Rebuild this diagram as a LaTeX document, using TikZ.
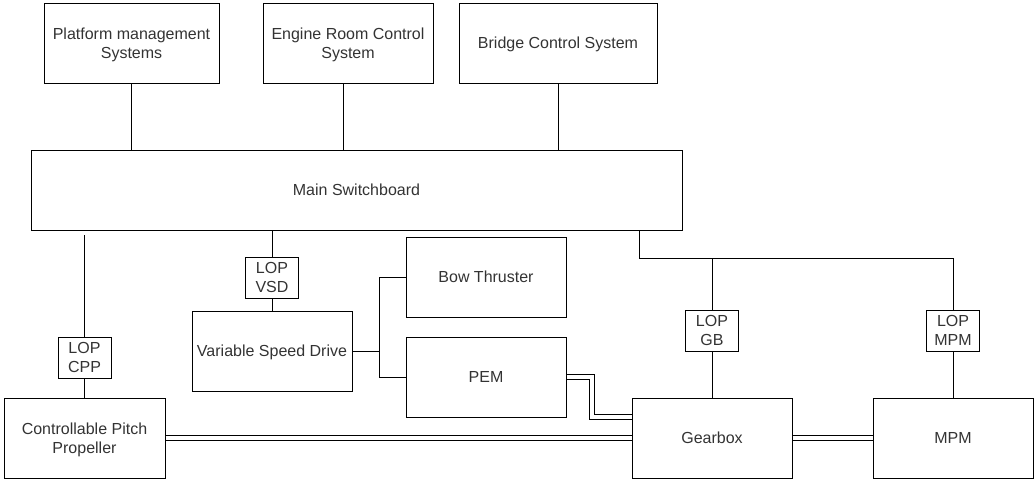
\documentclass[tikz,border=0pt]{standalone}
\usepackage{fontspec}
\setmainfont{Liberation Sans}
\usetikzlibrary{positioning}

\begin{document}
\begin{tikzpicture}[
    x=1pt, y=-1pt,
    node distance=20pt,
    block/.style={draw, line width=1pt, minimum width=160pt, minimum height=80pt,
        inner sep=2pt, outer sep=0pt, align=center, text depth=-4pt,
        font=\fontsize{16}{18.5}\selectfont, text=black!80},
    lop/.style={block, minimum width=53pt, minimum height=41pt, text depth=0pt},
    link/.style={line width=1pt},
    shaft/.style={line width=1pt, double, double distance=3.7pt,
        shorten <=0.5pt, shorten >=0.5pt},
]
\useasboundingbox (0,0) rectangle (1034,479);

%----------------------------------
% Control systems
%----------------------------------

\node[block, minimum width=175pt] (pms) at (131.5,43) {Platform management\\Systems};
\node[block, minimum width=170pt, right=44pt of pms] (erc) {Engine Room Control\\System};
\node[block, minimum width=198pt, right=26pt of erc] (bcs) {Bridge Control System};

\node[block, minimum width=651pt] (msb) at (356.5,190) {Main Switchboard};

\draw[link] (pms.south) -- (pms.south |- msb.north);
\draw[link] ([xshift=-4.5pt]erc.south) -- ([xshift=-4.5pt]erc.south |- msb.north);
\draw[link] (bcs.south) -- (bcs.south |- msb.north);

%----------------------------------
% Propulsion line
%----------------------------------

\node[block, minimum width=161pt] (cpp) at (84.5,438) {Controllable Pitch\\Propeller};
\node[lop, above=20pt of cpp] (lopcpp) {LOP\\CPP};

\node[block] (gb) at (712,438) {Gearbox};
\node[block, right=81pt of gb] (mpm) {MPM};

\node[lop, above=47pt of gb] (lopgb) {LOP\\GB};
\node[lop, above=47pt of mpm] (lopmpm) {LOP\\MPM};

%----------------------------------
% Electric drive
%----------------------------------

\node[block] (vsd) at (272,351) {Variable Speed Drive};
\node[lop, above=13pt of vsd] (lopvsd) {LOP\\VSD};

\node[block] (bow) at (486,277) {Bow Thruster};
\node[block, below=20pt of bow] (pem) {PEM};

%----------------------------------
% Control connections
%----------------------------------

\draw[link, shorten <=5pt] (lopcpp.north |- msb.south) -- (lopcpp.north);
\draw[link] (lopcpp) -- (cpp);

\draw[link] (lopvsd.north |- msb.south) -- (lopvsd.north);
\draw[link] (lopvsd) -- (vsd);

\draw[link] (vsd.east) -- ++(27,0) coordinate (split);
\draw[link] (bow.west) -- (bow.west -| split) -- (pem.west -| split) -- (pem.west);

\coordinate (bus) at (639,258);
\draw[link] (bus |- msb.south) -- (bus) -| (lopmpm.north);
\draw[link] (lopgb.north |- bus) -- (lopgb.north);
\draw[link] (lopgb) -- (gb);
\draw[link] (lopmpm) -- (mpm);

%----------------------------------
% Mechanical shafts
%----------------------------------

\draw[shaft] (cpp.east) -- (gb.west);
\draw[shaft] (gb.east) -- (mpm.west);
\draw[shaft] (pem.east) -- ++(26,0) |- ([yshift=21pt]gb.west);

\end{tikzpicture}
\end{document}
